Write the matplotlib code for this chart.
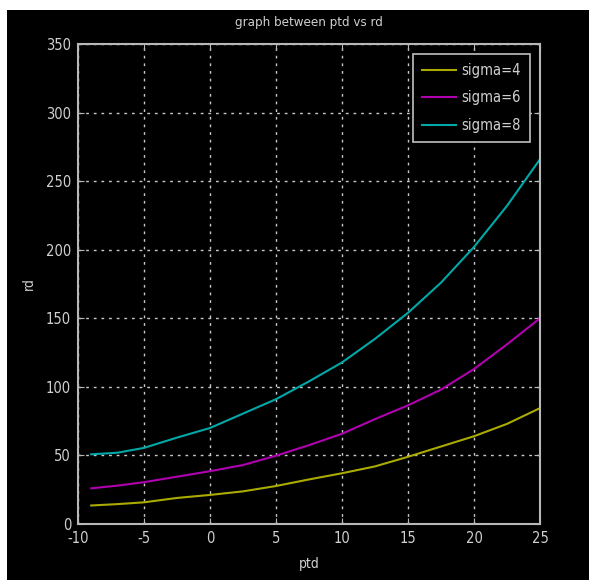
import matplotlib
matplotlib.use("Agg")
import matplotlib.pyplot as plt
from matplotlib.patches import Rectangle

# values
ptd = [-9, -7, -5, -2.5, 0, 2.5, 5, 7.5, 10, 12.5, 15, 17.5, 20, 22.5, 25]
rd_sigma4 = [13.5, 14.5, 15.8, 19.0, 21.2, 23.8, 27.7, 32.5, 37.0, 42.0, 49.0, 56.5, 64.0, 73.0, 84.5]
rd_sigma6 = [26.0, 28.0, 30.5, 34.5, 38.5, 43.0, 49.8, 57.5, 65.8, 76.5, 86.5, 98.0, 113.0, 131.0, 150.0]
rd_sigma8 = [50.8, 52.0, 55.5, 63.0, 70.0, 80.5, 91.0, 104.0, 117.8, 135.0, 154.0, 176.0, 202.0, 232.0, 266.0]
labels = ["sigma=4", "sigma=6", "sigma=8"]
colors = ["#aaaa00", "#b000b0", "#00a8a8"]

xticks = [-10, -5, 0, 5, 10, 15, 20, 25]
yticks = [0, 50, 100, 150, 200, 250, 300, 350]

plt.rcParams["font.family"] = ["DejaVu Sans"]
plt.rcParams["font.stretch"] = "condensed"
plt.rcParams["axes.unicode_minus"] = False
fg = "#d0d0d0"

fig = plt.figure(figsize=(5.89, 5.80), dpi=100, facecolor="white")
# black screenshot area inside a thin white border
fig.patches.append(Rectangle((7 / 589, 0), 582 / 589, 570 / 580,
                             transform=fig.transFigure, facecolor="black",
                             edgecolor="none", zorder=-10))

ax = fig.add_axes([78 / 589, 56 / 580, 462 / 589, 480 / 580])
ax.set_facecolor("black")

for y, lab, c in zip([rd_sigma4, rd_sigma6, rd_sigma8], labels, colors):
    ax.plot(ptd, y, color=c, linewidth=1.5, label=lab)

ax.set_xlim(-10, 25)
ax.set_ylim(0, 350)
ax.set_xticks(xticks)
ax.set_yticks(yticks)
ax.grid(True, color="#c8c8c8", linestyle=(0, (2, 3.5)), linewidth=1.0)

for s in ax.spines.values():
    s.set_color("#b8b8b8")
    s.set_linewidth(1.5)
ax.tick_params(direction="in", length=4, color="#b8b8b8", labelcolor=fg,
               labelsize=10.5, top=True, right=True)
ax.tick_params(axis="x", pad=5)
ax.tick_params(axis="y", pad=5)

ax.set_title("graph between ptd vs rd", color=fg, fontsize=9.5, pad=13)
ax.set_xlabel("ptd", color=fg, fontsize=10, labelpad=8)
ax.set_ylabel("rd", color=fg, fontsize=10, labelpad=7)

leg = ax.legend(loc="upper right", fontsize=10.5, frameon=True, fancybox=False,
                borderaxespad=0.7, handlelength=2.3, handletextpad=0.4,
                labelspacing=0.85, borderpad=0.6)
leg.get_frame().set_facecolor("black")
leg.get_frame().set_edgecolor("#c0c0c0")
leg.get_frame().set_linewidth(1.2)
leg.get_frame().set_alpha(1.0)
for t in leg.get_texts():
    t.set_color(fg)

fig.savefig("out.png", dpi=100, facecolor="white")
